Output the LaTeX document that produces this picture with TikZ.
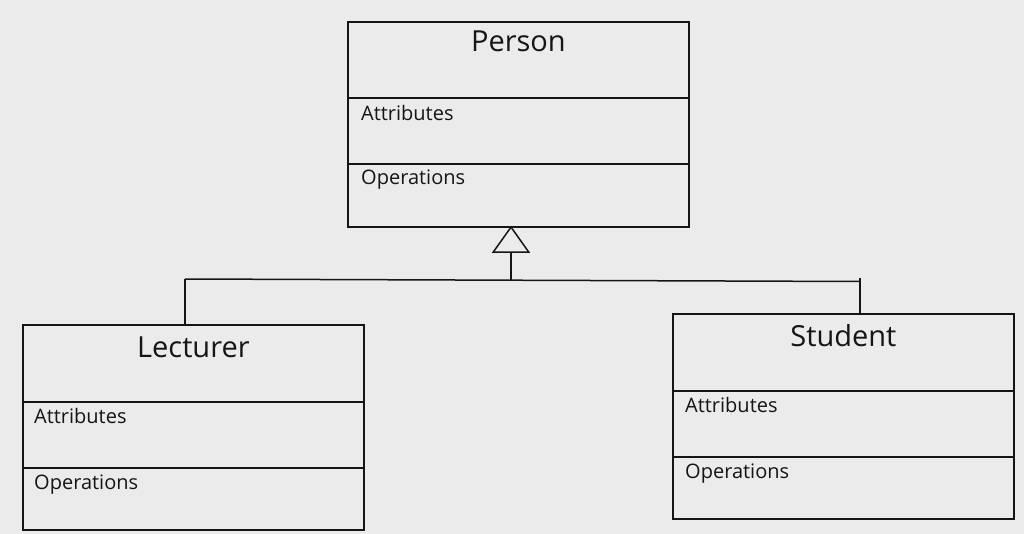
\documentclass[tikz,border=0pt]{standalone}
\usepackage{fontspec}
\setmainfont{Open Sans}
\usetikzlibrary{arrows.meta,calc}
\definecolor{bg}{HTML}{EBEBEB}
\definecolor{ink}{HTML}{151515}
\tikzset{
  cls/.style={draw=ink, line width=1.8pt, rectangle, inner sep=0pt,
    minimum width=341pt, minimum height=205pt, anchor=north west},
  divider/.style={draw=ink, line width=1.5pt},
  title/.style={font=\fontsize{29}{31}\selectfont, text=ink, anchor=base, inner sep=0pt},
  compart/.style={font=\fontsize{20}{23}\selectfont, text=ink, anchor=base west, inner sep=0pt},
  conn/.style={draw=ink, line width=1.5pt},
}
\begin{document}
\begin{tikzpicture}[x=1pt,y=-1pt]
\fill[bg] (0,0) rectangle (1024,534);
\useasboundingbox (0,0) rectangle (1024,534);

% Person
\node[cls] (person) at (347,21) {};
\draw[divider] ($(person.north west)+(0,77)$) -- ($(person.north east)+(0,77)$);
\draw[divider] ($(person.north west)+(0,143)$) -- ($(person.north east)+(0,143)$);
\node[title] (ptitle) at ($(person.north)+(0,31)$) {Person};
\node[compart] (pattr) at ($(person.north west)+(14,100)$) {Attributes};
\node[compart] (pops) at ($(person.north west)+(14,164)$) {Operations};

% Lecturer
\node[cls] (lecturer) at (22,324) {};
\draw[divider] ($(lecturer.north west)+(0,78)$) -- ($(lecturer.north east)+(0,78)$);
\draw[divider] ($(lecturer.north west)+(0,144)$) -- ($(lecturer.north east)+(0,144)$);
\node[title] (ltitle) at ($(lecturer.north)+(0,33)$) {Lecturer};
\node[compart] (lattr) at ($(lecturer.north west)+(12,99)$) {Attributes};
\node[compart] (lops) at ($(lecturer.north west)+(12,165)$) {Operations};

% Student
\node[cls] (student) at (672,313) {};
\draw[divider] ($(student.north west)+(0,78)$) -- ($(student.north east)+(0,78)$);
\draw[divider] ($(student.north west)+(0,144)$) -- ($(student.north east)+(0,144)$);
\node[title] (stitle) at ($(student.north)+(0,33)$) {Student};
\node[compart] (sattr) at ($(student.north west)+(13,99)$) {Attributes};
\node[compart] (sops) at ($(student.north west)+(13,165)$) {Operations};

% Connectors
\coordinate (jl) at (185,279);
\coordinate (hub) at (511,280.5);
\coordinate (jr) at (860,281.5);
\coordinate (jrtop) at (860,278);
\draw[conn, -{Triangle[open, width=38pt, length=27pt, line width=1.5pt]}]
  (hub) -- ([yshift=2pt]hub |- person.south);
\draw[conn] (jl) -- (jr);
\draw[conn] (jl) -- (jl |- lecturer.north);
\draw[conn] (jrtop) -- (jrtop |- student.north);
\end{tikzpicture}
\end{document}
